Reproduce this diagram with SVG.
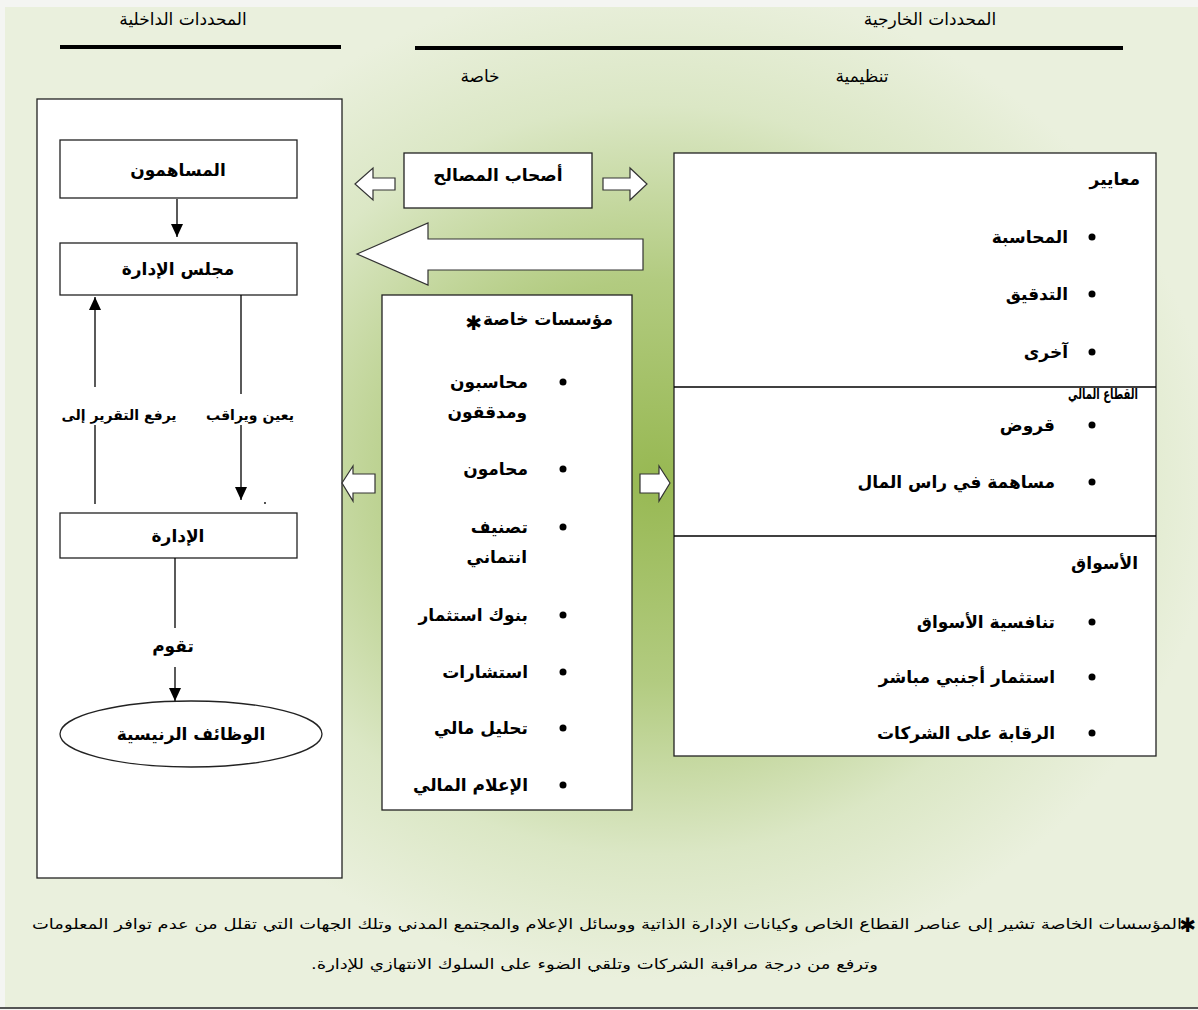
<svg xmlns="http://www.w3.org/2000/svg" width="1198" height="1010" viewBox="0 0 1198 1010">
  <defs>
    <radialGradient id="bg" gradientUnits="userSpaceOnUse" cx="0" cy="0" r="1" gradientTransform="translate(655 480) scale(560 500)">
      <stop offset="0" stop-color="#97b852"/>
      <stop offset="0.4" stop-color="#b2cb80"/>
      <stop offset="0.75" stop-color="#dbe7c5"/>
      <stop offset="1" stop-color="#eaf0dd"/>
    </radialGradient>
    <marker id="tri" viewBox="0 0 13 12" refX="13" refY="6" markerWidth="13" markerHeight="12" markerUnits="userSpaceOnUse" orient="auto">
      <path d="M0,0 L13,6 L0,12 Z" fill="#000"/>
    </marker>
  </defs>
  <style>
    .ar { font-family: "DejaVu Sans", sans-serif; font-size: 17px; font-weight: bold; fill: #000; }
    .hd { font-size: 17px; font-weight: normal; }
    .sm { font-size: 14px; }
    .xs { font-size: 15px; }
    .box { fill: #fff; stroke: #222; stroke-width: 1.3; }
    .rule { stroke: #000; stroke-width: 4; }
    .link { stroke: #000; stroke-width: 1.3; fill: none; }
    .block { fill: #fff; stroke: #333; stroke-width: 1.2; stroke-linejoin: miter; }
    .dot { fill: #000; }
    .fn { font-family: "DejaVu Sans", serif; font-size: 14px; fill: #000; }
    .star { font-family: "DejaVu Sans", sans-serif; font-size: 20px; font-weight: bold; fill: #000; }
  </style>

  <!-- page background -->
  <rect x="0" y="0" width="1198" height="1010" fill="#f4f5f2"/>
  <rect x="5" y="7" width="1193" height="1000" fill="url(#bg)"/>
  <line x1="0" y1="1008" x2="1198" y2="1008" stroke="#555" stroke-width="2"/>

  <!-- column headings -->
  <g id="headings">
    <text class="ar hd" x="183" y="25" text-anchor="middle">المحددات الداخلية</text>
    <line class="rule" x1="60" y1="47" x2="341" y2="47"/>
    <text class="ar hd" x="930" y="25" text-anchor="middle">المحددات الخارجية</text>
    <line class="rule" x1="415" y1="48" x2="1123" y2="48"/>
    <text class="ar hd" x="480" y="82" text-anchor="middle">خاصة</text>
    <text class="ar hd" x="862" y="82" text-anchor="middle">تنظيمية</text>
  </g>

  <!-- internal determinants panel -->
  <g id="internal-panel">
    <rect class="box" x="37" y="99" width="305" height="779"/>
  </g>
  <g id="shareholders">
    <rect class="box" x="60" y="140" width="237" height="58"/>
    <text class="ar" x="178" y="176" text-anchor="middle">المساهمون</text>
  </g>
  <g id="board">
    <rect class="box" x="60" y="243" width="237" height="52"/>
    <text class="ar" x="178" y="275" text-anchor="middle">مجلس الإدارة</text>
  </g>
  <g id="management">
    <rect class="box" x="60" y="513" width="237" height="45"/>
    <text class="ar" x="178" y="542" text-anchor="middle">الإدارة</text>
  </g>
  <g id="main-functions">
    <ellipse class="box" cx="191" cy="734" rx="131" ry="33"/>
    <text class="ar" x="191" y="740" text-anchor="middle">الوظائف الرنيسية</text>
  </g>

  <!-- stakeholders -->
  <g id="stakeholders">
    <rect class="box" x="404" y="153" width="188" height="55"/>
    <text class="ar" x="498" y="181" text-anchor="middle">أصحاب المصالح</text>
  </g>

  <!-- private institutions -->
  <g id="private-institutions">
    <rect class="box" x="382" y="295" width="250" height="515"/>
    <text class="ar" x="613" y="325" text-anchor="end">مؤسسات خاصة</text>
    <text class="star" x="482" y="330" text-anchor="end">✱</text>
    <g>
      <circle class="dot" cx="563" cy="382" r="3.5"/>
      <text class="ar" x="528" y="388" text-anchor="end">محاسبون</text>
      <text class="ar" x="527" y="418" text-anchor="end">ومدققون</text>
      <circle class="dot" cx="563" cy="469" r="3.5"/>
      <text class="ar" x="528" y="475" text-anchor="end">محامون</text>
      <circle class="dot" cx="563" cy="527" r="3.5"/>
      <text class="ar" x="528" y="533" text-anchor="end">تصنيف</text>
      <text class="ar" x="527" y="563" text-anchor="end">انتماني</text>
      <circle class="dot" cx="563" cy="615" r="3.5"/>
      <text class="ar" x="528" y="621" text-anchor="end">بنوك استثمار</text>
      <circle class="dot" cx="563" cy="672" r="3.5"/>
      <text class="ar" x="528" y="678" text-anchor="end">استشارات</text>
      <circle class="dot" cx="563" cy="728" r="3.5"/>
      <text class="ar" x="528" y="734" text-anchor="end">تحليل مالي</text>
      <circle class="dot" cx="563" cy="785" r="3.5"/>
      <text class="ar" x="528" y="791" text-anchor="end">الإعلام المالي</text>
    </g>
  </g>

  <!-- regulatory panel -->
  <g id="regulatory-panel">
    <rect class="box" x="674" y="153" width="482" height="603"/>
    <line class="link" x1="674" y1="387" x2="1156" y2="387"/>
    <line class="link" x1="674" y1="536" x2="1156" y2="536"/>
  </g>
  <g id="standards">
    <text class="ar" x="1140" y="185" text-anchor="end">معايير</text>
    <circle class="dot" cx="1092" cy="237" r="3.5"/>
    <text class="ar" x="1068" y="243" text-anchor="end">المحاسبة</text>
    <circle class="dot" cx="1092" cy="294" r="3.5"/>
    <text class="ar" x="1068" y="300" text-anchor="end">التدقيق</text>
    <circle class="dot" cx="1092" cy="352" r="3.5"/>
    <text class="ar" x="1068" y="358" text-anchor="end">آخرى</text>
  </g>
  <g id="financial-sector">
    <text class="ar xs" x="1138" y="399" text-anchor="end" textLength="70" lengthAdjust="spacingAndGlyphs">القطاع المالي</text>
    <circle class="dot" cx="1092" cy="425" r="3.5"/>
    <text class="ar" x="1055" y="431" text-anchor="end">قروض</text>
    <circle class="dot" cx="1092" cy="482" r="3.5"/>
    <text class="ar" x="1055" y="488" text-anchor="end">مساهمة في راس المال</text>
  </g>
  <g id="markets">
    <text class="ar" x="1138" y="569" text-anchor="end">الأسواق</text>
    <circle class="dot" cx="1092" cy="622" r="3.5"/>
    <text class="ar" x="1055" y="628" text-anchor="end">تنافسية الأسواق</text>
    <circle class="dot" cx="1092" cy="677" r="3.5"/>
    <text class="ar" x="1055" y="683" text-anchor="end">استثمار أجنبي مباشر</text>
    <circle class="dot" cx="1092" cy="733" r="3.5"/>
    <text class="ar" x="1055" y="739" text-anchor="end">الرقابة على الشركات</text>
  </g>

  <!-- connectors -->
  <g id="connectors">
    <path class="link" d="M177,199 V237" marker-end="url(#tri)"/>
    <path class="link" d="M95,387 V297" marker-end="url(#tri)"/>
    <path class="link" d="M95,425 V504"/>
    <path class="link" d="M241,295 V394"/>
    <path class="link" d="M241,425 V500" marker-end="url(#tri)"/>
    <path class="link" d="M175,558 V628"/>
    <path class="link" d="M175,667 V701" marker-end="url(#tri)"/>
    <circle cx="265" cy="503" r="0.9" fill="#000"/>
    <text class="ar sm" x="119" y="420" text-anchor="middle">يرفع التقرير إلى</text>
    <text class="ar sm" x="250" y="420" text-anchor="middle">يعين ويراقب</text>
    <text class="ar" x="173" y="652" text-anchor="middle">تقوم</text>

    <!-- hollow block arrows -->
    <polygon class="block" points="355,184 373,168 373,178 395,178 395,190 373,190 373,200"/>
    <polygon class="block" points="603,178 630,178 630,168 647,184 630,200 630,190 603,190"/>
    <polygon class="block" points="357,254 428,223 428,239 643,239 643,270 428,270 428,285"/>
    <polygon class="block" points="342,483 353,466 353,474 375,474 375,493 353,493 353,501"/>
    <polygon class="block" points="640,474 659,474 659,466 670,483 659,501 659,493 640,493"/>
  </g>

  <!-- footnote -->
  <g id="footnote">
    <text class="star" x="1196" y="932" text-anchor="end">✱</text>
    <text class="fn" x="1182" y="929" text-anchor="end" textLength="1150" lengthAdjust="spacingAndGlyphs">المؤسسات الخاصة تشير إلى عناصر القطاع الخاص  وكيانات الإدارة الذاتية ووسائل الإعلام والمجتمع المدني وتلك الجهات التي تقلل من عدم توافر المعلومات</text>
    <text class="fn" x="878" y="969" text-anchor="end" textLength="567" lengthAdjust="spacingAndGlyphs">وترفع من درجة مراقبة الشركات وتلقي الضوء على السلوك الانتهازي للإدارة.&#x200F;</text>
  </g>
</svg>
